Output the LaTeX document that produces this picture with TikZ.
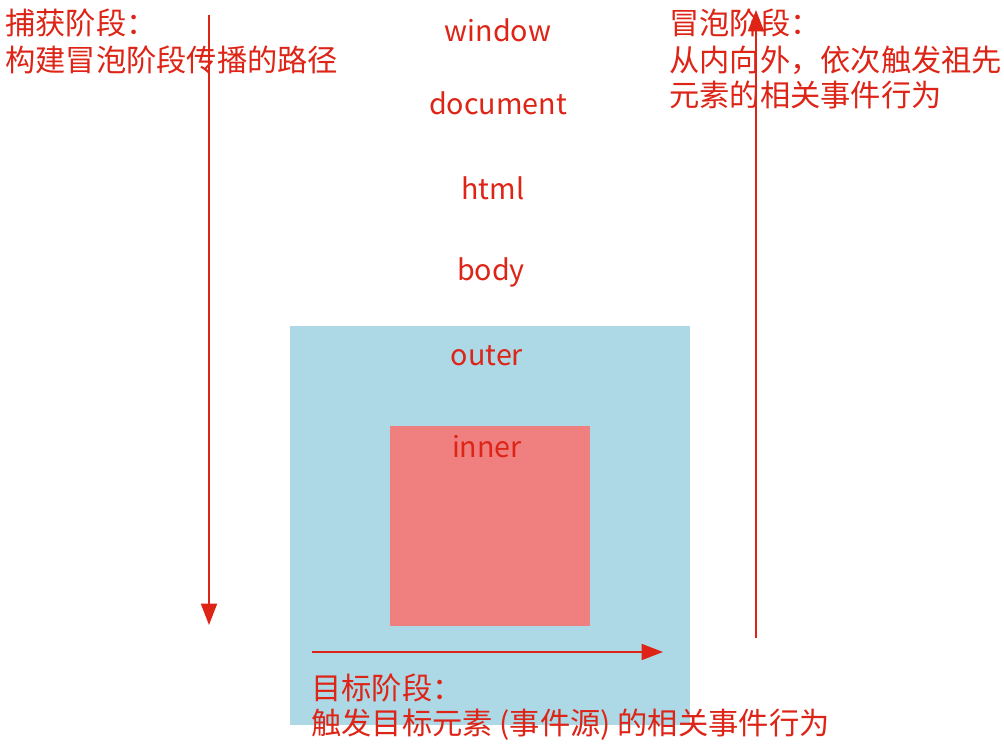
\documentclass[tikz,border=0pt]{standalone}
\usepackage{fontspec}
\setmainfont{Noto Sans CJK SC}
\usetikzlibrary{arrows.meta}
\definecolor{txtred}{RGB}{221,36,22}
\definecolor{outerblue}{RGB}{173,216,230}
\definecolor{innerred}{RGB}{240,128,128}
\tikzset{
  lbl/.style={text=txtred, inner sep=0pt, font=\fontsize{21.5}{26}\selectfont, anchor=base},
  cjk/.style={text=txtred, inner sep=0pt, font=\fontsize{22.7}{26}\selectfont, anchor=base west},
  phasearrow/.style={draw=txtred, line width=1.3pt, -{Triangle[length=16pt,width=12pt]}}
}
\begin{document}
\begin{tikzpicture}[x=0.75pt,y=-0.75pt]
\useasboundingbox[fill=white] (0,0) rectangle (1004,753);
% boxes
\fill[outerblue] (290,326) rectangle (690,725);
\fill[innerred] (390,426) rectangle (590,626);
% labels
\node[lbl] (window) at (498,41) {window};
\node[lbl] (document) at (498,114) {document};
\node[lbl] (html) at (493,199) {html};
\node[lbl] (body) at (491,280) {body};
\node[lbl] (outer) at (487,365) {outer};
\node[lbl] (inner) at (487,457) {inner};
% capture text
\node[cjk] (cap1) at (5,35) {捕获阶段：};
\node[cjk] (cap2) at (5,71) {构建冒泡阶段传播的路径};
% bubble text
\node[cjk] (bub1) at (669,35) {冒泡阶段：};
\node[cjk] (bub2) at (669,71) {从内向外，依次触发祖先};
\node[cjk] (bub3) at (669,106) {元素的相关事件行为};
% target text
\node[cjk] (tgt1) at (311,699) {目标阶段：};
\node[cjk] (tgt2) at (311,734) {触发目标元素 (事件源) 的相关事件行为};
% arrows
\coordinate (capS) at (209,15);
\coordinate (capE) at (209,625);
\coordinate (bubS) at (756,638);
\coordinate (bubE) at (756,10);
\coordinate (tgtS) at (312,652);
\coordinate (tgtE) at (663,652);
\draw[phasearrow] (capS) -- (capE);
\draw[phasearrow] (bubS) -- (bubE);
\draw[phasearrow] (tgtS) -- (tgtE);
\end{tikzpicture}
\end{document}
